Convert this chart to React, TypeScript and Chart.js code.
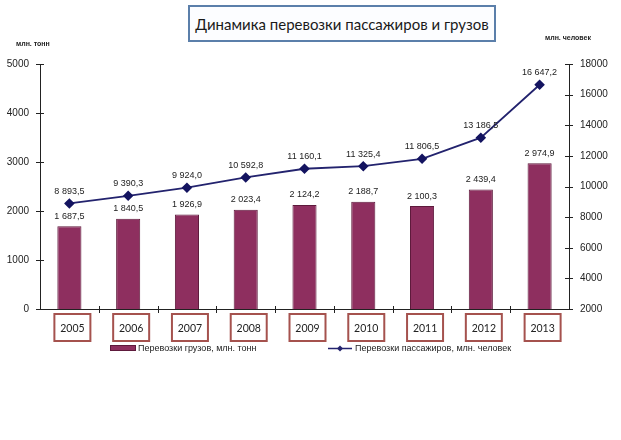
import React, { useEffect, useRef } from "react";
import { Chart, registerables } from "chart.js";

Chart.register(...registerables);

const TITLE = "Динамика перевозки пассажиров и грузов";
const YEARS = ["2005", "2006", "2007", "2008", "2009", "2010", "2011", "2012", "2013"];
const FREIGHT = [1687.5, 1840.5, 1926.9, 2023.4, 2124.2, 2188.7, 2100.3, 2439.4, 2974.9];
const PASSENGERS = [8893.5, 9390.3, 9924.0, 10592.8, 11160.1, 11325.4, 11806.5, 13186.5, 16647.2];
const FREIGHT_LABEL = "Перевозки грузов, млн. тонн";
const PASSENGER_LABEL = "Перевозки пассажиров, млн. человек";
const LEFT_UNIT = "млн. тонн";
const RIGHT_UNIT = "млн. человек";

const BAR_COLOR = "#8E2F5F";
const BAR_BORDER = "#5E1A3C";
const LINE_COLOR = "#23236E";
const BOX_COLOR = "#A5524E";
const TEXT = "#222222";

function fmt(v: number): string {
  const [i, d] = v.toFixed(1).split(".");
  const withSp = i.replace(/\B(?=(\d{3})+(?!\d))/g, " ");
  return withSp + "," + d;
}

const overlay = {
  id: "overlay",
  afterDatasetsDraw(chart: any) {
    const ctx = chart.ctx;
    const area = chart.chartArea;
    const y = chart.scales.y;
    const y1 = chart.scales.y1;
    const x = chart.scales.x;
    ctx.save();
    ctx.strokeStyle = "#222";
    ctx.lineWidth = 1;
    // tick marks
    y.ticks.forEach((t: any) => {
      const py = Math.round(y.getPixelForValue(t.value)) + 0.5;
      ctx.beginPath();
      ctx.moveTo(area.left - 4, py);
      ctx.lineTo(area.left + 4, py);
      ctx.stroke();
    });
    y1.ticks.forEach((t: any) => {
      const py = Math.round(y1.getPixelForValue(t.value)) + 0.5;
      ctx.beginPath();
      ctx.moveTo(area.right - 4, py);
      ctx.lineTo(area.right + 4, py);
      ctx.stroke();
    });
    const cw = (area.right - area.left) / YEARS.length;
    for (let i = 1; i < YEARS.length; i++) {
      const px = Math.round(area.left + i * cw) + 0.5;
      ctx.beginPath();
      ctx.moveTo(px, area.bottom - 3);
      ctx.lineTo(px, area.bottom + 4);
      ctx.stroke();
    }

    // data labels
    ctx.fillStyle = TEXT;
    ctx.font = "9px 'Liberation Sans', Arial, sans-serif";
    ctx.textAlign = "center";
    ctx.textBaseline = "middle";
    const barMeta = chart.getDatasetMeta(0);
    barMeta.data.forEach((el: any, i: number) => {
      ctx.fillText(fmt(FREIGHT[i]), el.x, el.y - 10);
    });
    const lineMeta = chart.getDatasetMeta(1);
    lineMeta.data.forEach((el: any, i: number) => {
      ctx.fillText(fmt(PASSENGERS[i]), el.x, el.y - 12);
    });

    // category boxes
    ctx.font = "10.5px Lato, 'Open Sans', sans-serif";
    YEARS.forEach((yr, i) => {
      const cx = x.getPixelForValue(i) + 3;
      const bw = 36;
      const bh = 27;
      const top = area.bottom + 5;
      ctx.fillStyle = "#ffffff";
      ctx.fillRect(cx - bw / 2, top, bw, bh);
      ctx.strokeStyle = BOX_COLOR;
      ctx.lineWidth = 2;
      ctx.strokeRect(cx - bw / 2, top, bw, bh);
      ctx.fillStyle = TEXT;
      ctx.fillText(yr, cx, top + bh / 2 + 1);
    });

    // legend
    ctx.font = "9px 'Liberation Sans', Arial, sans-serif";
    ctx.textAlign = "left";
    ctx.fillStyle = BAR_COLOR;
    ctx.fillRect(110, 345, 26, 6);
    ctx.strokeStyle = BAR_BORDER;
    ctx.lineWidth = 1;
    ctx.strokeRect(110.5, 345.5, 25, 5);
    ctx.fillStyle = TEXT;
    ctx.fillText(FREIGHT_LABEL, 138, 348.5);

    ctx.strokeStyle = LINE_COLOR;
    ctx.lineWidth = 1.5;
    ctx.beginPath();
    ctx.moveTo(328, 348.5);
    ctx.lineTo(352, 348.5);
    ctx.stroke();
    ctx.fillStyle = LINE_COLOR;
    ctx.beginPath();
    ctx.moveTo(340, 345.5);
    ctx.lineTo(343, 348.5);
    ctx.lineTo(340, 351.5);
    ctx.lineTo(337, 348.5);
    ctx.closePath();
    ctx.fill();
    ctx.fillStyle = TEXT;
    ctx.fillText(PASSENGER_LABEL, 355, 348.5);

    // axis units
    ctx.font = "bold 7px 'Liberation Sans', Arial, sans-serif";
    ctx.fillText(LEFT_UNIT, 16, 44);
    ctx.fillText(RIGHT_UNIT, 545, 38);
    ctx.restore();
  },
};

export default function App() {
  const ref = useRef<HTMLCanvasElement | null>(null);
  useEffect(() => {
    if (!ref.current) return;
    const chart = new Chart(ref.current, {
      type: "bar",
      data: {
        labels: YEARS,
        datasets: [
          {
            type: "bar",
            label: FREIGHT_LABEL,
            data: FREIGHT,
            yAxisID: "y",
            backgroundColor: BAR_COLOR,
            borderColor: BAR_BORDER,
            borderWidth: 1,
            barPercentage: 0.41,
            categoryPercentage: 1,
            order: 1,
          },
          {
            type: "line",
            label: PASSENGER_LABEL,
            data: PASSENGERS,
            yAxisID: "y1",
            borderColor: LINE_COLOR,
            borderWidth: 1.8,
            pointStyle: "rectRot",
            pointRadius: 4,
            pointBackgroundColor: "#141460",
            pointBorderColor: "#141460",
            tension: 0,
            order: 0,
          } as any,
        ],
      },
      options: {
        responsive: false,
        animation: false,
        layout: { padding: { top: 64, left: 0, right: 0, bottom: 0 } },
        plugins: {
          legend: { display: false },
          tooltip: { enabled: false },
          title: { display: false },
        },
        scales: {
          x: {
            grid: { display: false, drawTicks: false },
            border: { display: true, color: "#222", width: 1 },
            ticks: { display: false },
            afterFit: (s: any) => {
              s.height = 131;
            },
          },
          y: {
            position: "left",
            min: 0,
            max: 5000,
            grid: { display: false, drawTicks: false },
            border: { display: true, color: "#222", width: 1 },
            ticks: {
              stepSize: 1000,
              padding: 11,
              color: TEXT,
              font: { size: 10, family: "'Liberation Sans', Arial, sans-serif" },
              callback: (v: any) => String(v),
            },
            afterFit: (s: any) => {
              s.width = 40;
            },
          },
          y1: {
            position: "right",
            min: 2000,
            max: 18000,
            grid: { display: false, drawTicks: false },
            border: { display: true, color: "#222", width: 1 },
            ticks: {
              stepSize: 2000,
              padding: 11,
              color: TEXT,
              font: { size: 10, family: "'Liberation Sans', Arial, sans-serif" },
              callback: (v: any) => String(v),
            },
            afterFit: (s: any) => {
              s.width = 52;
            },
          },
        },
      },
      plugins: [overlay],
    });
    return () => chart.destroy();
  }, []);

  return (
    <div
      style={{
        position: "fixed",
        left: 0,
        top: 0,
        width: 621,
        height: 440,
        background: "#ffffff",
      }}
    >
      <canvas ref={ref} width={621} height={440} style={{ display: "block" }} />
      <div
        style={{
          position: "absolute",
          left: 188,
          top: 5,
          width: 304,
          height: 33,
          border: "2px solid #5B7FAA",
          background: "#FCFDFF",
          display: "flex",
          alignItems: "center",
          justifyContent: "center",
          fontFamily: "Lato, 'Open Sans', sans-serif",
          fontSize: 15,
          color: "#1a1a1a",
          whiteSpace: "nowrap",
        }}
      >
        {TITLE}
      </div>
    </div>
  );
}
